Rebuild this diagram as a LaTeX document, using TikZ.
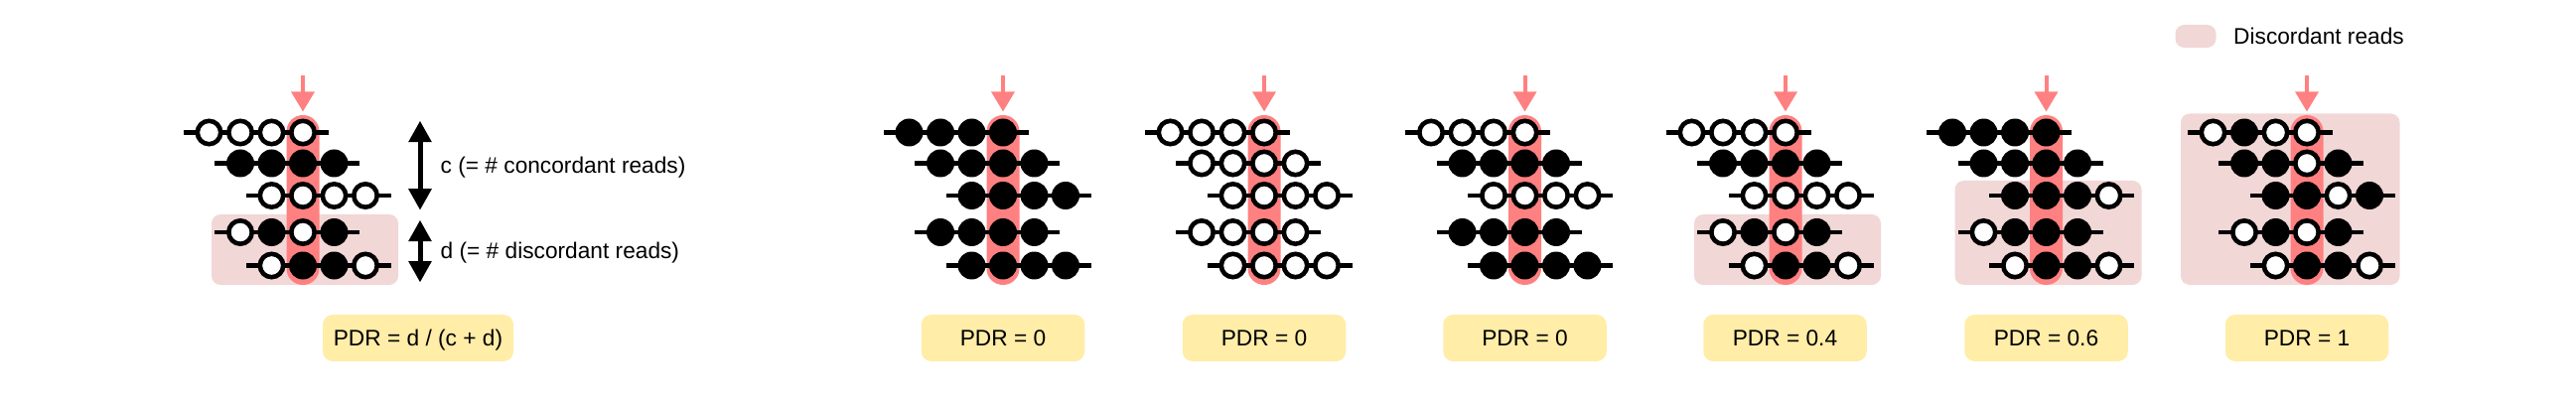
\documentclass[tikz,border=0pt]{standalone}
\usepackage{fontspec}
\setmainfont{Liberation Sans}
\usetikzlibrary{arrows.meta}
\definecolor{markred}{HTML}{FF8080}
\definecolor{discpink}{HTML}{F2D7D7}
\definecolor{pdryellow}{HTML}{FFEDA8}

\tikzset{
  readline/.style={line width=4.2pt, black},
  openbead/.style={line width=4.6pt, draw=black, fill=white},
  lbl/.style={font=\fontsize{22.7pt}{27pt}\selectfont, inner sep=0pt},
  pdrbox/.style={lbl, fill=pdryellow, rounded corners=10pt, minimum height=47pt,
                 text height=16.3pt, text depth=0pt},
  discbox/.style={fill=discpink, rounded corners=9pt},
  markarrow/.style={line width=4pt, markred, -{Triangle[width=22.7pt,length=20pt]}},
  dimarrow/.style={line width=5pt, black,
     {Triangle[width=22.3pt,length=21.5pt]}-{Triangle[width=22.3pt,length=21.5pt]}},
}

% one read: X, y, first column index, pattern (1 = filled, 0 = open)
\newcommand\pdrrow[4]{%
  \draw[readline] ({#1+(#3)*31.5-25.7},#2) -- ({#1+(#3+3)*31.5+25.7},#2);
  \foreach \c [count=\i from 0] in {#4} {
    \pgfmathsetmacro\cx{#1+(#3+\i)*31.5}
    \ifnum\c=1
      \fill[black] (\cx,#2) circle[radius=14pt];
    \else
      \draw[openbead] (\cx,#2) circle[radius=11.7pt];
    \fi
  }%
}

% panel: name, X, five row patterns
\newcommand\pdrpanel[7]{%
  \coordinate (#1top) at (#2,76);
  \coordinate (#1tip) at (#2,112.5);
  \draw[markarrow] (#1top) -- (#1tip);
  \fill[markred, rounded corners=16.4pt] ({#2-16.5},116) rectangle ({#2+16.5},287);
  \pdrrow{#2}{133.5}{-3}{#3}
  \pdrrow{#2}{164.5}{-2}{#4}
  \pdrrow{#2}{197}{-1}{#5}
  \pdrrow{#2}{234}{-2}{#6}
  \pdrrow{#2}{267.5}{-1}{#7}
}

\begin{document}
\begin{tikzpicture}[x=1pt,y=-1pt]
\useasboundingbox (0,0) rectangle (2594,406);

% legend
\node[discbox, minimum width=41pt, minimum height=23pt, inner sep=0pt] (legbox) at (2211,36.5) {};
\node[lbl, anchor=base west] (legtext) at (2249,44.5) {Discordant reads};

% panel A (definition)
\fill[discbox] (213,216) rectangle (401,287);
\pdrpanel{pa}{305}{0,0,0,0}{1,1,1,1}{0,0,0,0}{0,1,0,1}{0,1,1,0}
\coordinate (ctop) at (423,121.7);
\coordinate (cbot) at (423,211.7);
\coordinate (dtop) at (423,221.7);
\coordinate (dbot) at (423,284.5);
\draw[dimarrow] (ctop) -- (cbot);
\draw[dimarrow] (dtop) -- (dbot);
\node[lbl, anchor=base west] (ctext) at (443.5,175) {c (= \# concordant reads)};
\node[lbl, anchor=base west] (dtext) at (443.5,260) {d (= \# discordant reads)};
\node[pdrbox, minimum width=192pt] (pdra) at (421,340.5) {PDR = d / (c + d)};

% panel 1: all filled
\pdrpanel{pb}{1010}{1,1,1,1}{1,1,1,1}{1,1,1,1}{1,1,1,1}{1,1,1,1}
\node[pdrbox, minimum width=164.5pt] (pdrb) at (1010,340.5) {PDR = 0};

% panel 2: all open
\pdrpanel{pc}{1273}{0,0,0,0}{0,0,0,0}{0,0,0,0}{0,0,0,0}{0,0,0,0}
\node[pdrbox, minimum width=164.5pt] (pdrc) at (1273,340.5) {PDR = 0};

% panel 3
\pdrpanel{pd}{1535.5}{0,0,0,0}{1,1,1,1}{0,0,0,0}{1,1,1,1}{1,1,1,1}
\node[pdrbox, minimum width=164.5pt] (pdrd) at (1535.5,340.5) {PDR = 0};

% panel 4
\fill[discbox] (1706,216) rectangle (1894,287);
\pdrpanel{pe}{1798}{0,0,0,0}{1,1,1,1}{0,0,0,0}{0,1,0,1}{0,1,1,0}
\node[pdrbox, minimum width=164.5pt] (pdre) at (1797.5,340.5) {PDR = 0.4};

% panel 5
\fill[discbox] (1968.5,182) rectangle (2156.5,287);
\pdrpanel{pf}{2060.5}{1,1,1,1}{1,1,1,1}{1,1,1,0}{0,1,1,1}{0,1,1,0}
\node[pdrbox, minimum width=164.5pt] (pdrf) at (2060.5,340.5) {PDR = 0.6};

% panel 6
\fill[discbox] (2196,114.5) rectangle (2416.5,287);
\pdrpanel{pg}{2323}{0,1,0,0}{1,1,0,1}{1,1,0,1}{0,1,0,1}{0,1,1,0}
\node[pdrbox, minimum width=164.5pt] (pdrg) at (2323,340.5) {PDR = 1};

\end{tikzpicture}
\end{document}
